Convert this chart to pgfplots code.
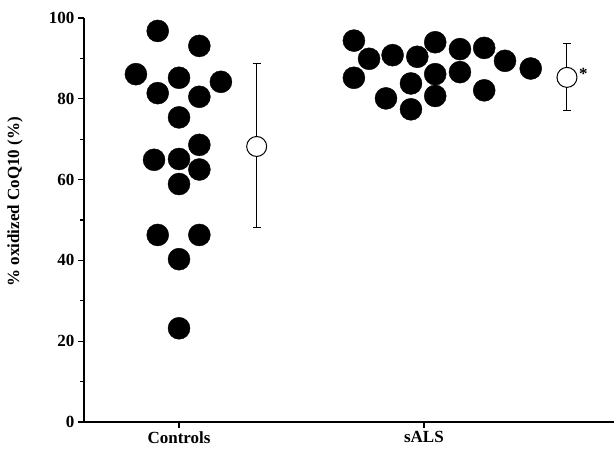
\documentclass[border=0pt]{standalone}
\usepackage{pgfplots}
\pgfplotsset{compat=1.18}
\usepackage{fontspec}
\setmainfont{Liberation Serif}
\begin{document}
\begin{tikzpicture}
\begin{axis}[
  scale only axis, width=530pt, height=404pt,
  at={(0,0)}, anchor=south west,
  xmin=0.612, xmax=2.776, ymin=0, ymax=100,
  axis x line=bottom, axis y line=left,
  axis line style={-, line width=1.4pt},
  xtick={1,2}, xticklabels={Controls,sALS},
  ytick={0,20,40,60,80,100}, minor ytick={10,30,50,70,90},
  tick align=outside,
  major tick length=6pt, minor tick length=4pt,
  tick style={line width=1.2pt, black},
  every tick label/.append style={font=\fontsize{17}{17}\selectfont\bfseries},
  /pgf/number format/assume math mode=true,
  ylabel={\% oxidized CoQ10 (\%)},
  ylabel style={at={(axis description cs:-0.130,0.545)}, anchor=center, font=\fontsize{17}{17}\selectfont\bfseries},
  clip=false,
]
\addplot[only marks, mark=*, mark size=11pt, black] coordinates {
(0.913,96.8) (1.083,93.1) (0.824,86.1) (1.000,85.2) (1.171,84.2)
(0.913,81.4) (1.083,80.5) (1.000,75.4) (1.083,68.6) (0.898,64.9)
(1.000,65.1) (1.083,62.5) (1.000,58.9) (0.913,46.3) (1.083,46.3)
(1.000,40.3) (1.000,23.2)
};
\addplot[only marks, mark=*, mark size=11pt, black] coordinates {
(1.714,94.4) (1.776,89.9) (1.872,90.8) (1.973,90.4) (2.046,94.0)
(2.147,92.3) (2.246,92.6) (2.331,89.4) (2.436,87.5) (1.714,85.2)
(1.947,83.8) (2.046,86.1) (2.147,86.6) (1.845,80.1) (2.046,80.7)
(2.246,82.1) (1.947,77.4)
};
\addplot[only marks, mark=none, black, error bars/.cd, y dir=both, y explicit,
  error bar style={line width=1pt, black}, error mark=-, error mark options={rotate=90, mark size=4pt, line width=1pt, black}]
  coordinates {(1.317,68.45) +- (0,20.35) (2.584,85.4) +- (0,8.2)};
\addplot[only marks, mark=*, mark size=10pt, mark options={fill=white, draw=black, line width=1pt}]
  coordinates {(1.317,68.2) (2.584,85.3)};
\node[font=\fontsize{17}{17}\selectfont\bfseries, anchor=west, inner sep=0pt, xshift=12pt, yshift=3.5pt] at (axis cs:2.584,85.3) {*};
\end{axis}
\pgfresetboundingbox
\path[use as bounding box] (-84pt,-26pt) rectangle (530pt,422pt);
\end{tikzpicture}
\end{document}
